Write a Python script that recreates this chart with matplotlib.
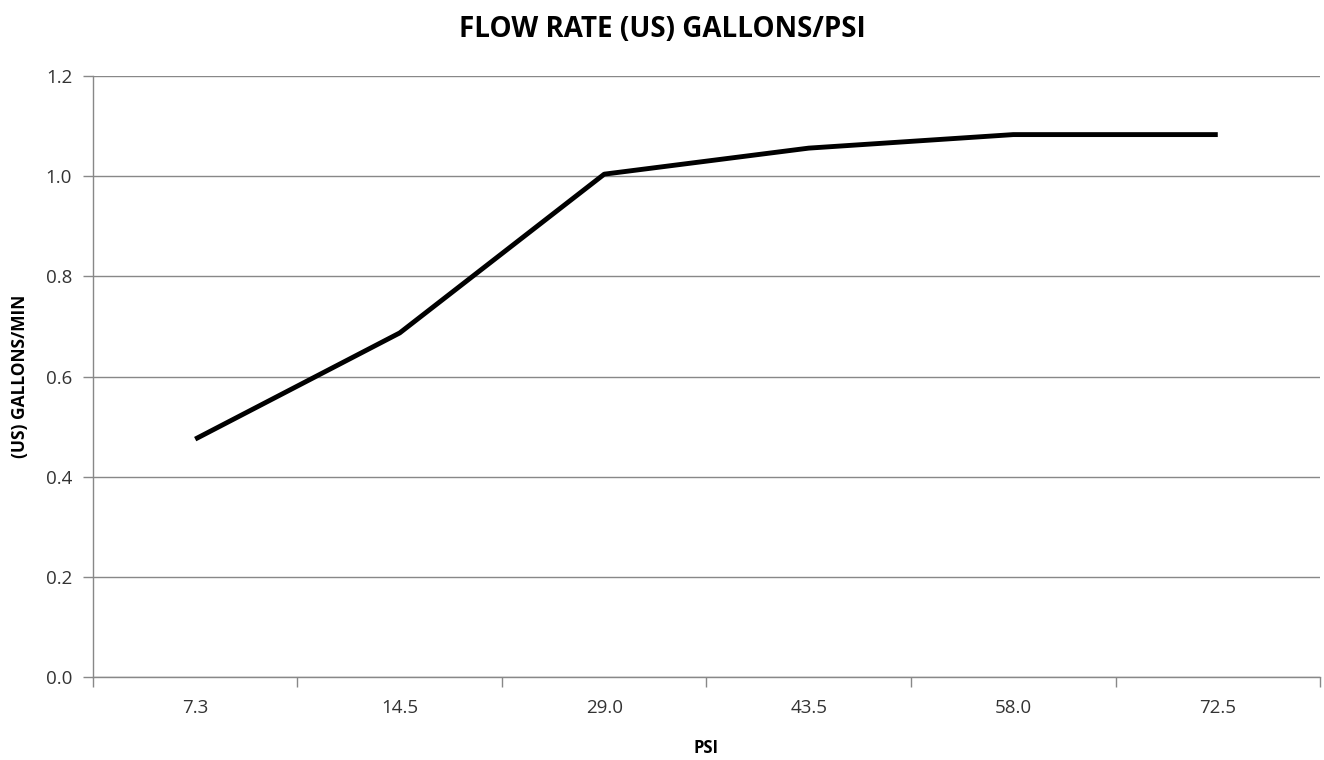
import numpy as np
import matplotlib.pyplot as plt

plt.rcParams['font.family'] = ['Open Sans', 'DejaVu Sans']

psi = ['7.3', '14.5', '29.0', '43.5', '58.0', '72.5']
flow = [0.475, 0.687, 1.004, 1.056, 1.083, 1.083]

fig = plt.figure(figsize=(13.24, 7.6), dpi=100)
ax = fig.add_axes([0.0702, 0.1092, 0.9268, 0.7908])

x = np.arange(len(psi))
ax.plot(x, flow, color='black', linewidth=3.5, solid_capstyle='butt')

ax.set_xlim(-0.5, len(psi) - 0.5)
ax.set_ylim(0, 1.2)
ax.set_yticks(np.arange(0, 1.21, 0.2))
ax.set_yticklabels(['%.1f' % v for v in np.arange(0, 1.21, 0.2)], fontsize=13.5, color='#333333')
ax.set_xticks(x)
ax.set_xticklabels(psi, fontsize=13.5, color='#333333')
ax.set_xticks(np.arange(-0.5, len(psi)), minor=True)
ax.tick_params(axis='x', which='major', length=0, pad=16)
ax.tick_params(axis='x', which='minor', length=7, color='#888888', width=1)
ax.tick_params(axis='y', length=7, color='#888888', width=1, pad=8)

ax.grid(True, axis='y', color='#888888', linewidth=1)
ax.set_axisbelow(True)
for s in ['top', 'right']:
    ax.spines[s].set_visible(False)
for s in ['left', 'bottom']:
    ax.spines[s].set_color('#888888')
    ax.spines[s].set_linewidth(1)

ax.set_xlabel('PSI', fontsize=12, fontweight='bold', labelpad=16)
ax.set_ylabel('(US) GALLONS/MIN', fontsize=12.5, fontweight='bold', labelpad=12)
fig.suptitle('FLOW RATE (US) GALLONS/PSI', fontsize=20, fontweight='bold', x=0.5, y=0.98)

plt.savefig('out.png', dpi=100)
